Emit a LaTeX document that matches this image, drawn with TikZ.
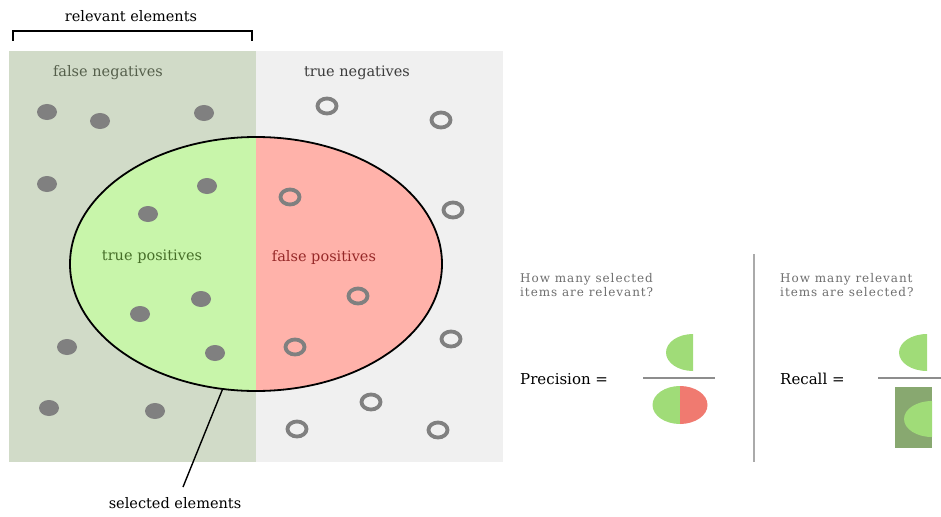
\documentclass[tikz,border=0pt]{standalone}
\usepackage{fontspec}
\setmainfont{DejaVu Serif}
\newfontfamily\qfont[LetterSpace=8]{DejaVu Serif}
\usetikzlibrary{shapes.geometric}
\definecolor{relbg}{RGB}{209,219,200}
\definecolor{irrbg}{RGB}{240,240,240}
\definecolor{tpfill}{RGB}{200,245,170}
\definecolor{fpfill}{RGB}{255,178,170}
\definecolor{dotgray}{RGB}{128,128,128}
\definecolor{fntext}{RGB}{85,95,75}
\definecolor{tntext}{RGB}{60,60,60}
\definecolor{tptext}{RGB}{70,110,40}
\definecolor{fptext}{RGB}{150,40,40}
\definecolor{qtext}{RGB}{110,110,110}
\definecolor{hgreen}{RGB}{160,220,120}
\definecolor{hred}{RGB}{240,122,112}
\definecolor{hdark}{RGB}{136,168,112}
\definecolor{sepgray}{RGB}{170,170,170}
\tikzset{
  lbl/.style={inner sep=0pt, font=\fontsize{14.5}{16}\selectfont},
  qlbl/.style={inner sep=0pt, anchor=north west, align=left, text=qtext,
    font=\qfont\fontsize{12}{14}\selectfont},
  eqlbl/.style={inner sep=0pt, anchor=west, font=\fontsize{15}{17}\selectfont},
  item/.style={fill=dotgray},
  nonitem/.style={draw=dotgray, line width=3.8pt},
  fracline/.style={draw=dotgray!90, line width=1.3pt},
}
\begin{document}
\begin{tikzpicture}[x=1pt,y=-1pt]
\useasboundingbox (0,0) rectangle (941,516);
% backgrounds of the two halves
\fill[relbg] (9,51) rectangle (256,462);
\fill[irrbg] (256,51) rectangle (503,462);
% selected region, split into its two halves
\begin{scope}
  \clip (0,0) rectangle (256,516);
  \fill[tpfill] (256,264) ellipse [x radius=186, y radius=127];
\end{scope}
\begin{scope}
  \clip (256,0) rectangle (941,516);
  \fill[fpfill] (256,264) ellipse [x radius=186, y radius=127];
\end{scope}
\node[draw, line width=1.8pt, ellipse, minimum width=372pt, minimum height=254pt, inner sep=0pt] (sel) at (256,264) {};
% relevant items
\foreach \p in {(47,112),(100,121),(204,113),(47,184),(207,186),(148,214),
                (201,299),(140,314),(215,353),(67,347),(49,408),(155,411)}
  \fill[item] \p ellipse [x radius=10, y radius=8];
% irrelevant items
\foreach \p in {(327,106),(441,120),(290,197),(453,210),(358,296),(451,339),
                (295,347),(371,402),(297,429),(438,430)}
  \draw[nonitem] \p ellipse [x radius=9.5, y radius=7.5];
% region labels
\node[lbl, text=fntext] (fn) at (108,73) {false negatives};
\node[lbl, text=tntext] (tn) at (357,73) {true negatives};
\node[lbl, text=tptext] (tp) at (152,257) {true positives};
\node[lbl, text=fptext] (fp) at (324,257) {false positives};
% bracket over the relevant half
\node[lbl] (rel) at (131,16) {relevant elements};
\coordinate (bl) at (13,41);
\coordinate (br) at (252,41);
\draw[line width=1.6pt] (bl) -- ++(0,-10) -| (br);
% pointer to the selected region
\node[lbl] (sellbl) at (175,503) {selected elements};
\coordinate (selend) at (183,487);
\draw[line width=1.4pt] (sel.255) -- (selend);
% separator
\coordinate (septop) at (754,254);
\coordinate (sepbot) at (754,462);
\draw[sepgray, line width=2pt] (septop) -- (sepbot);
% precision
\node[qlbl] (pq) at (520,273) {How many selected\\items are relevant?};
\node[eqlbl] (peq) at (520,379) {Precision =};
\coordinate (pl) at (643,378);
\coordinate (pr) at (715,378);
\draw[fracline] (pl) -- (pr);
\fill[hgreen] (693,334) arc[start angle=270, end angle=90, x radius=27, y radius=18.5] -- cycle;
\fill[hgreen] (680,386) arc[start angle=270, end angle=90, x radius=27.5, y radius=19] -- cycle;
\fill[hred] (680,386) arc[start angle=-90, end angle=90, x radius=27.5, y radius=19] -- cycle;
% recall
\node[qlbl] (rq) at (780,273) {How many relevant\\items are selected?};
\node[eqlbl] (req) at (780,379) {Recall =};
\coordinate (rl) at (878,378);
\coordinate (rr) at (941,378);
\draw[fracline] (rl) -- (rr);
\fill[hgreen] (927,334) arc[start angle=270, end angle=90, x radius=28, y radius=18.5] -- cycle;
\fill[hdark] (895,387) rectangle (932,448);
\fill[hgreen] (932,401) arc[start angle=270, end angle=90, x radius=28, y radius=18] -- cycle;
\end{tikzpicture}
\end{document}
